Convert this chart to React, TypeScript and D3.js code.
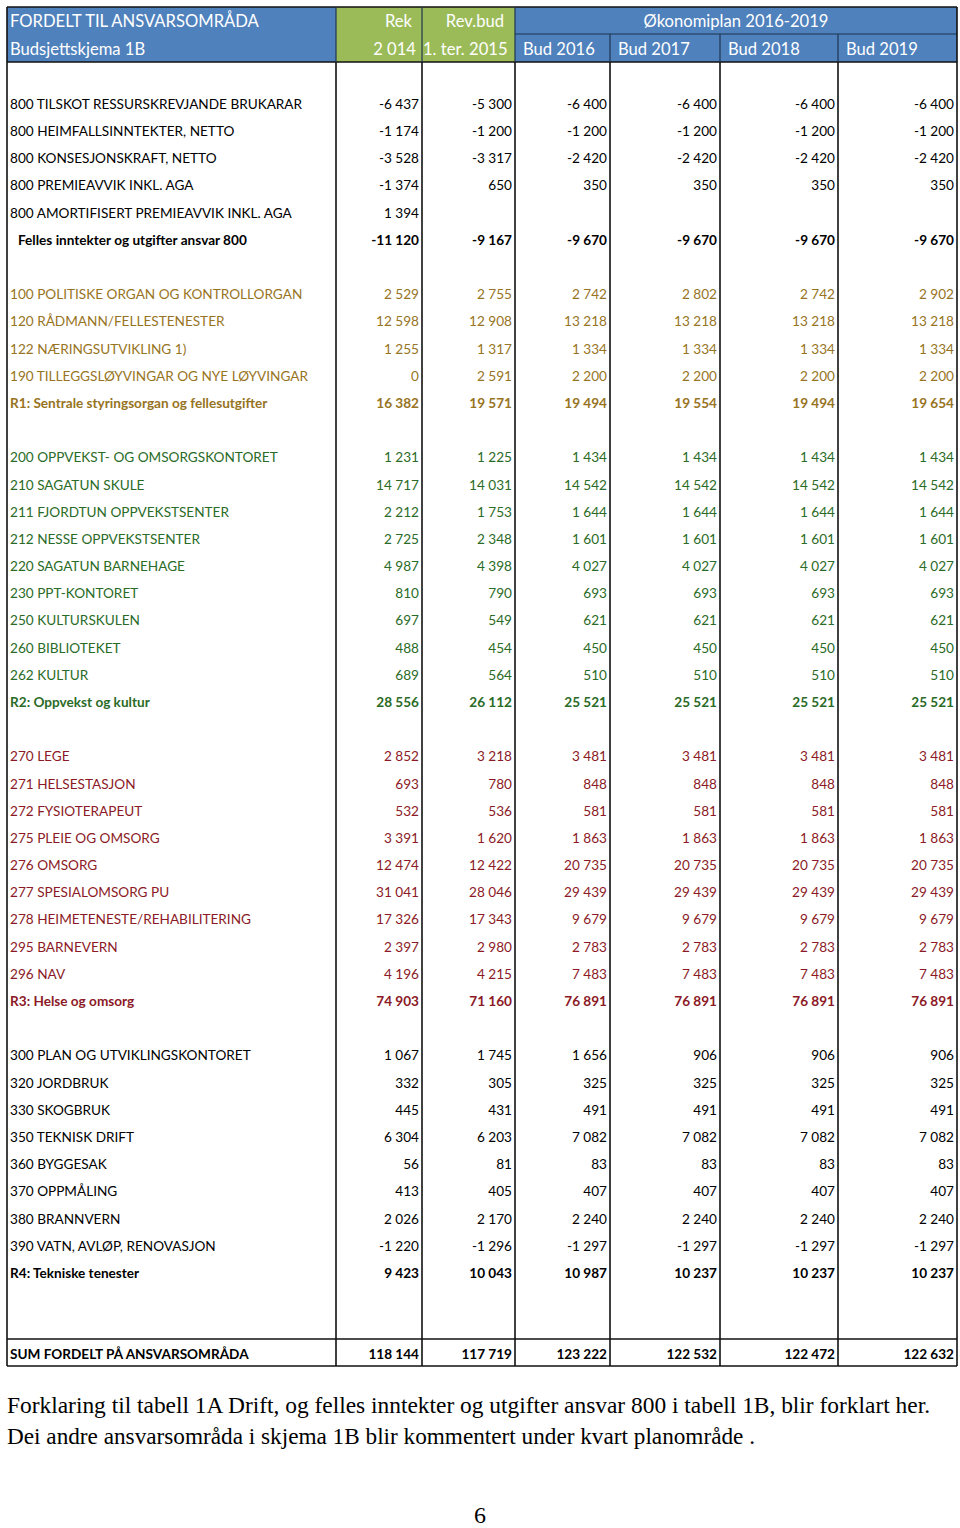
import React from "react";
import * as d3 from "d3";

// ---------- DATA ----------
type Grp = "black" | "gold" | "green" | "red";
const rowLabels: string[] = [
  "",
  "800 TILSKOT RESSURSKREVJANDE BRUKARAR",
  "800 HEIMFALLSINNTEKTER, NETTO",
  "800 KONSESJONSKRAFT, NETTO",
  "800 PREMIEAVVIK INKL. AGA",
  "800 AMORTIFISERT PREMIEAVVIK INKL. AGA",
  "Felles inntekter og utgifter ansvar 800",
  "",
  "100 POLITISKE ORGAN OG KONTROLLORGAN",
  "120 RÅDMANN/FELLESTENESTER",
  "122 NÆRINGSUTVIKLING 1)",
  "190 TILLEGGSLØYVINGAR OG NYE LØYVINGAR",
  "R1: Sentrale styringsorgan og fellesutgifter",
  "",
  "200 OPPVEKST- OG OMSORGSKONTORET",
  "210 SAGATUN SKULE",
  "211 FJORDTUN OPPVEKSTSENTER",
  "212 NESSE OPPVEKSTSENTER",
  "220 SAGATUN BARNEHAGE",
  "230 PPT-KONTORET",
  "250 KULTURSKULEN",
  "260 BIBLIOTEKET",
  "262 KULTUR",
  "R2: Oppvekst og kultur",
  "",
  "270 LEGE",
  "271 HELSESTASJON",
  "272 FYSIOTERAPEUT",
  "275 PLEIE OG OMSORG",
  "276 OMSORG",
  "277 SPESIALOMSORG PU",
  "278 HEIMETENESTE/REHABILITERING",
  "295 BARNEVERN",
  "296 NAV",
  "R3: Helse og omsorg",
  "",
  "300 PLAN OG UTVIKLINGSKONTORET",
  "320 JORDBRUK",
  "330 SKOGBRUK",
  "350 TEKNISK DRIFT",
  "360 BYGGESAK",
  "370 OPPMÅLING",
  "380 BRANNVERN",
  "390 VATN, AVLØP, RENOVASJON",
  "R4: Tekniske tenester",
  "",
  "",
  "SUM FORDELT PÅ ANSVARSOMRÅDA",
];
const rowGroups: Grp[] = [
  "black", "black", "black", "black", "black", "black", "black",
  "black", "gold", "gold", "gold", "gold", "gold",
  "black", "green", "green", "green", "green", "green", "green", "green", "green", "green", "green",
  "black", "red", "red", "red", "red", "red", "red", "red", "red", "red", "red",
  "black", "black", "black", "black", "black", "black", "black", "black", "black", "black",
  "black", "black", "black",
];
const boldRows: number[] = [6, 12, 23, 34, 44, 47];
const indentRows: number[] = [6];

type V = number | null;
const rek2014: V[] = [null, -6437, -1174, -3528, -1374, 1394, -11120, null, 2529, 12598, 1255, 0, 16382, null, 1231, 14717, 2212, 2725, 4987, 810, 697, 488, 689, 28556, null, 2852, 693, 532, 3391, 12474, 31041, 17326, 2397, 4196, 74903, null, 1067, 332, 445, 6304, 56, 413, 2026, -1220, 9423, null, null, 118144];
const revbud2015: V[] = [null, -5300, -1200, -3317, 650, null, -9167, null, 2755, 12908, 1317, 2591, 19571, null, 1225, 14031, 1753, 2348, 4398, 790, 549, 454, 564, 26112, null, 3218, 780, 536, 1620, 12422, 28046, 17343, 2980, 4215, 71160, null, 1745, 305, 431, 6203, 81, 405, 2170, -1296, 10043, null, null, 117719];
const bud2016: V[] = [null, -6400, -1200, -2420, 350, null, -9670, null, 2742, 13218, 1334, 2200, 19494, null, 1434, 14542, 1644, 1601, 4027, 693, 621, 450, 510, 25521, null, 3481, 848, 581, 1863, 20735, 29439, 9679, 2783, 7483, 76891, null, 1656, 325, 491, 7082, 83, 407, 2240, -1297, 10987, null, null, 123222];
const bud2017: V[] = [null, -6400, -1200, -2420, 350, null, -9670, null, 2802, 13218, 1334, 2200, 19554, null, 1434, 14542, 1644, 1601, 4027, 693, 621, 450, 510, 25521, null, 3481, 848, 581, 1863, 20735, 29439, 9679, 2783, 7483, 76891, null, 906, 325, 491, 7082, 83, 407, 2240, -1297, 10237, null, null, 122532];
const bud2018: V[] = [null, -6400, -1200, -2420, 350, null, -9670, null, 2742, 13218, 1334, 2200, 19494, null, 1434, 14542, 1644, 1601, 4027, 693, 621, 450, 510, 25521, null, 3481, 848, 581, 1863, 20735, 29439, 9679, 2783, 7483, 76891, null, 906, 325, 491, 7082, 83, 407, 2240, -1297, 10237, null, null, 122472];
const bud2019: V[] = [null, -6400, -1200, -2420, 350, null, -9670, null, 2902, 13218, 1334, 2200, 19654, null, 1434, 14542, 1644, 1601, 4027, 693, 621, 450, 510, 25521, null, 3481, 848, 581, 1863, 20735, 29439, 9679, 2783, 7483, 76891, null, 906, 325, 491, 7082, 83, 407, 2240, -1297, 10237, null, null, 122632];
const valueColumns: V[][] = [rek2014, revbud2015, bud2016, bud2017, bud2018, bud2019];

const headerTitle1 = "FORDELT TIL ANSVARSOMRÅDA";
const headerTitle2 = "Budsjettskjema 1B";
const headerGreenTop = ["Rek", "Rev.bud"];
const headerGreenBottom = ["2 014", "1. ter. 2015"];
const headerPlanTitle = "Økonomiplan 2016-2019";
const headerBudYears = ["Bud 2016", "Bud 2017", "Bud 2018", "Bud 2019"];
const footnoteLines = [
  "Forklaring til tabell 1A Drift, og felles inntekter og utgifter ansvar 800 i tabell 1B,  blir forklart  her.",
  "Dei andre ansvarsområda  i skjema 1B blir kommentert under kvart planområde .",
];
const pageNumber = "6";

// ---------- LAYOUT ----------
const W = 960;
const H = 1528;
const colEdges = [7, 336, 422, 515, 610, 720, 838, 957];
const headerTop = 7;
const headerMid = 34;
const headerBottom = 62;
const sumLine = 1339;
const tableBottom = 1366;

const colors: Record<Grp, string> = {
  black: "#000000",
  gold: "#977423",
  green: "#2A6B27",
  red: "#8B1A26",
};
const BLUE = "#4F81BD";
const GREEN = "#9BBB59";

const loc = d3.formatLocale({ decimal: ",", thousands: "\u00a0", grouping: [3], currency: ["", ""], minus: "-" });
const fmt = loc.format(",d");

const yCenter = d3.scaleLinear().domain([1, 44]).range([104, 1273]);

const FONT = "Lato, 'Open Sans', sans-serif";

export default function App() {
  const lines: JSX.Element[] = [];
  const stroke = "#111";
  colEdges.forEach((x, i) => {
    const top = i === 0 || i === colEdges.length - 1 ? headerTop : headerBottom;
    lines.push(<line key={"v" + i} x1={x} x2={x} y1={top} y2={tableBottom} stroke={stroke} strokeWidth={1.6} />);
  });
  return (
    <svg width={W} height={H} style={{ position: "absolute", left: 0, top: 0, background: "#fff" }}>
      <rect x={0} y={0} width={W} height={H} fill="#fff" />
      <rect x={colEdges[0]} y={headerTop} width={colEdges[1] - colEdges[0]} height={headerBottom - headerTop} fill={BLUE} />
      <rect x={colEdges[1]} y={headerTop} width={colEdges[3] - colEdges[1]} height={headerBottom - headerTop} fill={GREEN} />
      <rect x={colEdges[3]} y={headerTop} width={colEdges[7] - colEdges[3]} height={headerBottom - headerTop} fill={BLUE} />
      <line x1={colEdges[0]} x2={colEdges[7]} y1={headerTop} y2={headerTop} stroke={stroke} strokeWidth={1.6} />
      <line x1={colEdges[0]} x2={colEdges[7]} y1={headerBottom} y2={headerBottom} stroke={stroke} strokeWidth={1.6} />
      <line x1={colEdges[3]} x2={colEdges[7]} y1={headerMid} y2={headerMid} stroke="#1f3550" strokeWidth={1.2} />
      {[1, 2, 3].map((i) => (
        <line key={"hv" + i} x1={colEdges[i]} x2={colEdges[i]} y1={headerTop} y2={headerBottom} stroke="#1f3550" strokeWidth={1.2} />
      ))}
      {[4, 5, 6].map((i) => (
        <line key={"hv2" + i} x1={colEdges[i]} x2={colEdges[i]} y1={headerMid} y2={headerBottom} stroke="#1f3550" strokeWidth={1.2} />
      ))}
      <g fontFamily={FONT} fontSize={16.6} fill="#fff">
        <text x={10} y={27}>{headerTitle1}</text>
        <text x={10} y={55}>{headerTitle2}</text>
        <text x={colEdges[2] - 10} y={27} textAnchor="end">{headerGreenTop[0]}</text>
        <text x={colEdges[2] - 6} y={55} textAnchor="end">{headerGreenBottom[0]}</text>
        <text x={colEdges[3] - 11} y={27} textAnchor="end">{headerGreenTop[1]}</text>
        <text x={colEdges[2] + 1} y={55}>{headerGreenBottom[1]}</text>
        <text x={(colEdges[3] + colEdges[7]) / 2} y={27} textAnchor="middle">{headerPlanTitle}</text>
        {headerBudYears.map((t, i) => (
          <text key={t} x={colEdges[3 + i] + 8} y={55}>{t}</text>
        ))}
      </g>
      {lines}
      <line x1={colEdges[0]} x2={colEdges[7]} y1={sumLine} y2={sumLine} stroke={stroke} strokeWidth={1.6} />
      <line x1={colEdges[0]} x2={colEdges[7]} y1={tableBottom} y2={tableBottom} stroke={stroke} strokeWidth={1.6} />
      <g fontFamily={FONT} fontSize={13.6}>
        {rowLabels.map((lab, r) => {
          if (!lab && valueColumns.every((c) => c[r] === null)) return null;
          const y = r === 47 ? 1354 : yCenter(r);
          const bold = boldRows.includes(r);
          const fill = colors[rowGroups[r]];
          return (
            <g key={"r" + r} fill={fill} fontWeight={bold ? 700 : 400}>
              <text x={indentRows.includes(r) ? 18 : 10} y={y} dy="0.36em">{lab}</text>
              {valueColumns.map((col, c) =>
                col[r] === null ? null : (
                  <text key={c} x={colEdges[c + 2] - 3} y={y} dy="0.36em" textAnchor="end">{fmt(col[r] as number)}</text>
                )
              )}
            </g>
          );
        })}
      </g>
      <g fontFamily="'Liberation Serif', 'Times New Roman', serif" fontSize={24} fill="#000">
        <text x={7} y={1413} textLength={923} lengthAdjust="spacingAndGlyphs">{footnoteLines[0]}</text>
        <text x={7} y={1444} textLength={748} lengthAdjust="spacingAndGlyphs">{footnoteLines[1]}</text>
        <text x={480} y={1523} textAnchor="middle">{pageNumber}</text>
      </g>
    </svg>
  );
}
